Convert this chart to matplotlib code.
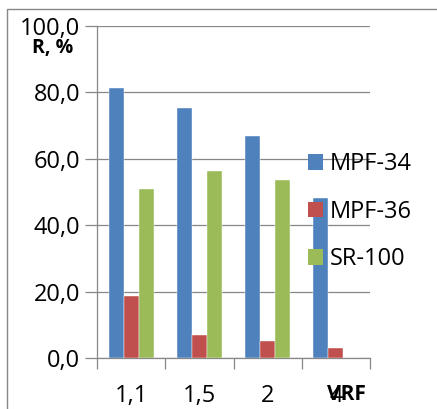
import matplotlib
matplotlib.use("Agg")
import matplotlib.pyplot as plt
from matplotlib.patches import Rectangle, Patch
import numpy as np

categories = ["1,1", "1,5", "2", "4"]
mpf34 = [81.2, 75.4, 67.0, 48.3]
mpf36 = [18.8, 6.8, 5.0, 3.0]
sr100 = [50.8, 56.3, 53.7, 0.0]
series_names = ["MPF-34", "MPF-36", "SR-100"]
colors = ["#4F81BD", "#C0504D", "#9BBB59"]
yticks = [0, 20, 40, 60, 80, 100]
ytick_labels = ["0,0", "20,0", "40,0", "60,0", "80,0", "100,0"]

plt.rcParams['font.family'] = ['Open Sans', 'DejaVu Sans']
grid_c = "#878787"
fs = 17

fig = plt.figure(figsize=(4.37, 4.09), dpi=100)
ax = fig.add_axes([97/437, 1-358/409, (370-97)/437, (358-26)/409])

x = np.arange(len(categories))
w = 0.22
for i, (vals, c) in enumerate(zip([mpf34, mpf36, sr100], colors)):
    ax.bar(x + (i - 1) * w, vals, width=w, color=c, zorder=3,
           edgecolor="white", linewidth=0.3, label=series_names[i])

ax.set_xlim(-0.5, len(categories) - 0.5)
ax.set_ylim(0, 100)
ax.set_yticks(yticks)
ax.set_yticklabels(ytick_labels, fontsize=fs)
ax.yaxis.grid(True, color=grid_c, linewidth=0.9, zorder=0)
ax.set_axisbelow(True)
ax.tick_params(axis="y", length=9, width=0.9, color=grid_c, pad=3)

ax.set_xticks(x)
ax.set_xticklabels(categories, fontsize=fs)
ax.set_xticks(np.arange(-0.5, len(categories), 1.0), minor=True)
ax.tick_params(axis="x", which="major", length=0, pad=19)
ax.tick_params(axis="x", which="minor", length=8, width=0.9, color=grid_c)

for s in ["top", "right"]:
    ax.spines[s].set_visible(False)
for s in ["left", "bottom"]:
    ax.spines[s].set_color(grid_c)
    ax.spines[s].set_linewidth(0.9)

fig.text(53/437, 1-48/409, "R, %", fontsize=14, fontweight="bold",
         ha="center", va="center")
fig.text(346/437, 1-394/409, "VRF", fontsize=15, fontweight="bold",
         ha="center", va="center")

handles = [Patch(facecolor=c, edgecolor="none") for c in colors]
fig.legend(handles, series_names, loc="upper left",
           bbox_to_anchor=(308/437, 1-152/409), frameon=False, fontsize=fs,
           handlelength=0.64, handleheight=0.64, handletextpad=0.3,
           labelspacing=1.0, borderpad=0, borderaxespad=0)

fig.patches.append(Rectangle((7/437, -0.2), 2, 0.2 + 1-9/409,
                             transform=fig.transFigure, fill=False,
                             edgecolor=grid_c, linewidth=1.0))

fig.savefig("out.png", dpi=100)
